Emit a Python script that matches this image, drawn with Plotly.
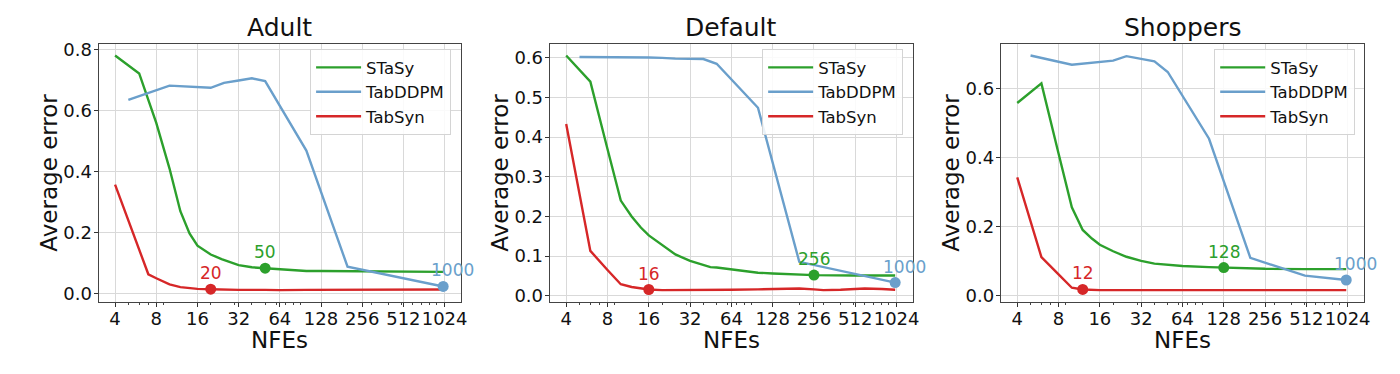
import math
import plotly.graph_objects as go

# ---------------- data ----------------
datasets = ["Adult", "Default", "Shoppers"]
methods = ["STaSy", "TabDDPM", "TabSyn"]

# Adult
adult_stasy_x = [4, 6, 8, 10, 12, 14, 16, 20, 24, 28, 32, 40, 50, 64, 80, 100, 128, 200, 256, 500, 1000]
adult_stasy_y = [0.781, 0.722, 0.56, 0.41, 0.27, 0.197, 0.157, 0.128, 0.113, 0.101, 0.093, 0.086, 0.083,
                 0.079, 0.075, 0.074, 0.074, 0.073, 0.073, 0.072, 0.071]
adult_tabddpm_x = [5, 10, 20, 25, 32, 40, 50, 100, 200, 1000]
adult_tabddpm_y = [0.635, 0.682, 0.675, 0.691, 0.699, 0.706, 0.697, 0.469, 0.088, 0.023]
adult_tabsyn_x = [4, 7, 8, 10, 12, 14, 16, 20, 25, 32, 50, 64, 100, 128, 256, 500, 1000]
adult_tabsyn_y = [0.357, 0.063, 0.05, 0.03, 0.021, 0.017, 0.015, 0.014, 0.012, 0.012, 0.012, 0.011,
                  0.012, 0.012, 0.012, 0.013, 0.013]

# Default
default_stasy_x = [4, 6, 8, 10, 12, 14, 16, 20, 25, 32, 40, 45, 50, 64, 80, 100, 128, 200, 256, 500, 1000]
default_stasy_y = [0.606, 0.54, 0.37, 0.24, 0.2, 0.172, 0.152, 0.127, 0.104, 0.088, 0.077, 0.072, 0.071,
                   0.066, 0.063, 0.058, 0.056, 0.053, 0.052, 0.051, 0.051]
default_tabddpm_x = [5, 10, 16, 20, 25, 40, 50, 100, 200, 1000]
default_tabddpm_y = [0.602, 0.602, 0.601, 0.600, 0.598, 0.597, 0.585, 0.474, 0.0855, 0.033]
default_tabsyn_x = [4, 6, 8, 10, 12, 16, 20, 32, 50, 64, 100, 128, 200, 256, 300, 400, 500, 600, 800, 1000]
default_tabsyn_y = [0.433, 0.113, 0.065, 0.029, 0.022, 0.0156, 0.014, 0.014, 0.015, 0.015, 0.016, 0.017,
                    0.018, 0.016, 0.014, 0.015, 0.016, 0.018, 0.017, 0.015]

# Shoppers
shoppers_stasy_x = [4, 6, 8, 10, 12, 14, 16, 20, 25, 32, 40, 50, 64, 100, 128, 200, 256, 500, 1000]
shoppers_stasy_y = [0.559, 0.616, 0.412, 0.256, 0.19, 0.165, 0.147, 0.128, 0.112, 0.1, 0.092, 0.088,
                    0.085, 0.082, 0.0806, 0.078, 0.077, 0.076, 0.076]
shoppers_tabddpm_x = [5, 10, 20, 25, 40, 50, 100, 200, 500, 1000]
shoppers_tabddpm_y = [0.697, 0.670, 0.682, 0.695, 0.680, 0.649, 0.455, 0.109, 0.057, 0.0445]
shoppers_tabsyn_x = [4, 6, 8, 10, 12, 16, 32, 64, 128, 256, 500, 1000]
shoppers_tabsyn_y = [0.343, 0.111, 0.061, 0.022, 0.017, 0.015, 0.015, 0.015, 0.015, 0.015, 0.016, 0.015]

# highlighted NFEs per dataset (STaSy, TabDDPM, TabSyn)
adult_best = [50, 1000, 20]
default_best = [256, 1000, 16]
shoppers_best = [128, 1000, 12]

x_tick_vals = [4, 8, 16, 32, 64, 128, 256, 512, 1024]
x_tick_text = ["4", "8", "16", "32", "64", "128", "256", "512", "1024"]
adult_y_ticks = [0.0, 0.2, 0.4, 0.6, 0.8]
default_y_ticks = [0.0, 0.1, 0.2, 0.3, 0.4, 0.5, 0.6]
shoppers_y_ticks = [0.0, 0.2, 0.4, 0.6]

# ---------------- style ----------------
W, H = 1400, 374
OFF = 8  # page body margin: the figure is drawn 8px right/down in the window
FONT = "DejaVu Sans"
colors = {"STaSy": "#2ca02c", "TabDDPM": "#6a9fcb", "TabSyn": "#d62728"}


def px_x(X):
    return (X - OFF) / W


def px_y(Y):
    return 1 - (Y - OFF) / H


series = {
    "Adult": [(adult_stasy_x, adult_stasy_y), (adult_tabddpm_x, adult_tabddpm_y), (adult_tabsyn_x, adult_tabsyn_y)],
    "Default": [(default_stasy_x, default_stasy_y), (default_tabddpm_x, default_tabddpm_y),
                (default_tabsyn_x, default_tabsyn_y)],
    "Shoppers": [(shoppers_stasy_x, shoppers_stasy_y), (shoppers_tabddpm_x, shoppers_tabddpm_y),
                 (shoppers_tabsyn_x, shoppers_tabsyn_y)],
}
best = {"Adult": adult_best, "Default": default_best, "Shoppers": shoppers_best}
yticks = {"Adult": adult_y_ticks, "Default": default_y_ticks, "Shoppers": shoppers_y_ticks}

# plot-area pixel boxes in the window (left, right)
px_boxes = {"Adult": (99, 463), "Default": (552, 917), "Shoppers": (1005, 1370)}
top_px, bot_px = 39.5, 304
legend_right_px = {"Adult": 453, "Default": 907, "Shoppers": 1361}

minor_vals = [k * 10 ** e for e in range(0, 4) for k in range(2, 10) if 3 < k * 10 ** e < 1400]

fig = go.Figure()
annotations = []
layout_axes = {}

for i, ds in enumerate(datasets):
    sfx = "" if i == 0 else str(i + 1)
    xa, ya = "x" + sfx, "y" + sfx
    leg = "legend" + sfx
    for m, (xs, ys) in zip(methods, series[ds]):
        fig.add_trace(go.Scatter(x=xs, y=ys, mode="lines", name=m, xaxis=xa, yaxis=ya,
                                 line=dict(color=colors[m], width=2.4), legend=leg))
    for m, (xs, ys), b in zip(methods, series[ds], best[ds]):
        by = ys[xs.index(b)]
        fig.add_trace(go.Scatter(x=[b], y=[by], mode="markers", xaxis=xa, yaxis=ya, showlegend=False,
                                 marker=dict(color=colors[m], size=11)))
        annotations.append(dict(x=math.log10(b), y=by, xref=xa, yref=ya, text=str(b), showarrow=False,
                                yanchor="bottom", yshift=4, xshift=9 if b == 1000 else 0,
                                font=dict(family=FONT, size=17, color=colors[m])))

    all_y = [v for _, ys in series[ds] for v in ys]
    lo, hi = min(all_y), max(all_y)
    pad = 0.05 * (hi - lo)
    l, r = px_boxes[ds]
    layout_axes["xaxis" + sfx] = dict(
        domain=[px_x(l), px_x(r)], anchor=ya, type="log",
        range=[1.6 * math.log10(2), 10.4 * math.log10(2)],
        tickmode="array", tickvals=x_tick_vals, ticktext=x_tick_text, tickangle=0,
        ticks="outside", ticklen=4, tickcolor="#333", tickfont=dict(family=FONT, size=18, color="#111"),
        ticklabelstandoff=-3,
        showgrid=True, gridcolor="#d9d9d9", gridwidth=1,
        showline=True, mirror=True, linecolor="#444", linewidth=1, zeroline=False,
        minor=dict(tickvals=minor_vals, ticks="outside", ticklen=2, tickcolor="#444", showgrid=False),
    )
    layout_axes["yaxis" + sfx] = dict(
        domain=[px_y(bot_px), px_y(top_px)], anchor=xa, range=[lo - pad, hi + pad],
        tickmode="array", tickvals=yticks[ds], tickformat=".1f",
        ticks="outside", ticklen=4, tickcolor="#333", tickfont=dict(family=FONT, size=18, color="#111"),
        ticklabelstandoff=-2,
        showgrid=True, gridcolor="#d9d9d9", gridwidth=1,
        showline=True, mirror=True, linecolor="#444", linewidth=1, zeroline=False,
    )
    cx = px_x((l + r) / 2)
    annotations.append(dict(x=cx, y=px_y(23), xref="paper", yref="paper", text=ds, showarrow=False,
                            xanchor="center", yanchor="middle", font=dict(family=FONT, size=25, color="#111")))
    annotations.append(dict(x=cx, y=px_y(343), xref="paper", yref="paper", text="NFEs", showarrow=False,
                            xanchor="center", yanchor="middle", font=dict(family=FONT, size=23, color="#111")))
    annotations.append(dict(x=px_x(l - 50), y=px_y((top_px + bot_px) / 2), xref="paper", yref="paper",
                            text="Average error", textangle=-90, showarrow=False,
                            xanchor="center", yanchor="middle", font=dict(family=FONT, size=23, color="#111")))
    layout_axes[leg] = dict(x=px_x(legend_right_px[ds]), y=px_y(45), xanchor="right", yanchor="top",
                            bgcolor="rgba(255,255,255,0.85)", bordercolor="#d4d4d4", borderwidth=1,
                            font=dict(family=FONT, size=16.5, color="#111"), itemwidth=45,
                            tracegroupgap=0)

fig.update_layout(
    width=W, height=H, margin=dict(l=0, r=0, t=0, b=0),
    paper_bgcolor="white", plot_bgcolor="white",
    annotations=annotations, showlegend=True,
    **layout_axes,
)
fig.write_html("out.html")
